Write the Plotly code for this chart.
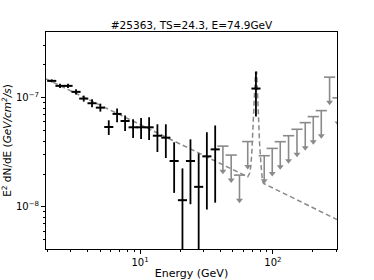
import plotly.graph_objects as go

# ---- data ----
E_pts = [2.161, 2.495, 2.867, 3.294, 3.764, 4.347, 5.022, 5.809, 6.709, 7.709, 8.857,
         10.17, 11.69, 13.50, 15.62, 18.04, 20.84, 23.94, 27.60, 31.81, 36.75, 74.5]
flux = [1.422e-7, 1.280e-7, 1.280e-7, 1.128e-7, 9.79e-8, 8.88e-8, 8.09e-8, 5.38e-8,
        7.09e-8, 6.11e-8, 5.35e-8, 5.35e-8, 5.35e-8, 4.48e-8, 4.30e-8, 2.63e-8,
        1.152e-8, 2.63e-8, 1.526e-8, 2.90e-8, 3.36e-8, 1.21e-7]
flux_hi = [1.468e-7, 1.335e-7, 1.335e-7, 1.189e-7, 1.043e-7, 9.66e-8, 8.80e-8, 6.20e-8,
           7.93e-8, 6.84e-8, 6.34e-8, 6.51e-8, 6.61e-8, 5.70e-8, 5.70e-8, 3.90e-8,
           2.25e-8, 4.15e-8, 3.08e-8, 4.82e-8, 5.56e-8, 1.732e-7]
flux_lo = [1.378e-7, 1.227e-7, 1.227e-7, 1.070e-7, 9.19e-8, 8.16e-8, 7.44e-8, 4.55e-8,
           5.95e-8, 4.95e-8, 4.27e-8, 4.18e-8, 4.09e-8, 3.18e-8, 2.80e-8, 1.344e-8,
           1e-9, 1.059e-8, 1e-9, 9.46e-9, 1.093e-8, 6.72e-8]

E_ul = [42.0, 48.5, 56.0, 64.6, 86.0, 98.8, 113.5, 131.1, 151.7, 175.1, 201.2, 231.2, 267.0, 309.0]
ul = [3.60e-8, 2.98e-8, 1.953e-8, 3.96e-8, 2.94e-8, 3.43e-8, 3.95e-8, 4.48e-8,
      5.13e-8, 5.90e-8, 6.70e-8, 7.60e-8, 1.538e-7, 9.94e-8]

E_model = [1.957, 64.6, 66.9, 68.3, 69.5, 70.7, 72.7, 73.9, 75.5, 77.1, 79.3, 81.6, 83.5, 85.0, 303.6]
model = [1.484e-7, 1.884e-8, 2.04e-8, 2.41e-8, 3.31e-8, 5.38e-8, 1.104e-7, 1.684e-7,
         1.72e-7, 7.71e-8, 3.84e-8, 2.31e-8, 1.72e-8, 1.64e-8, 7.66e-9]

x_tickvals = [10, 100]
x_ticktext = ["10<sup>1</sup>", "10<sup>2</sup>"]
y_tickvals = [1e-8, 1e-7]
y_ticktext = ["10<sup>\u22128</sup>", "10<sup>\u22127</sup>"]

title = "#25363, TS=24.3, E=74.9GeV"
xlabel = "Energy (GeV)"
ylabel = "E<sup>2</sup> dN/dE (<i>GeV/cm<sup>2</sup>/s</i>)"

# ---- styles ----
GRAY = "#8a8a8a"
ARROW_FRAC = 0.41  # arrow length as a fraction of the limit (visual style)

fig = go.Figure()

fig.add_trace(go.Scatter(
    x=E_model, y=model, mode="lines",
    line=dict(color=GRAY, width=1.5, dash="5px,3px"),
    hoverinfo="skip", showlegend=False))

# upper limits
fig.add_trace(go.Scatter(
    x=E_ul, y=ul, mode="markers",
    marker=dict(symbol="line-ew-open", size=8, color=GRAY, line=dict(color=GRAY, width=1.6)),
    error_y=dict(type="data", symmetric=False, array=[0] * len(ul),
                 arrayminus=[v * ARROW_FRAC for v in ul],
                 width=0, thickness=1.6, color=GRAY),
    showlegend=False))
fig.add_trace(go.Scatter(
    x=E_ul, y=[v * (1 - ARROW_FRAC) for v in ul], mode="markers",
    marker=dict(symbol="triangle-down", size=6, color=GRAY, line=dict(width=0)),
    showlegend=False))

# data points
fig.add_trace(go.Scatter(
    x=E_pts, y=flux, mode="markers",
    marker=dict(symbol="line-ew-open", size=6.5, color="black", line=dict(color="black", width=2)),
    error_y=dict(type="data", symmetric=False,
                 array=[h - f for h, f in zip(flux_hi, flux)],
                 arrayminus=[f - l for f, l in zip(flux, flux_lo)],
                 width=0, thickness=1.8, color="black"),
    showlegend=False))

minor_x = [v * m for v in (1, 10, 100) for m in range(2, 10)]
minor_y = [v * m for v in (1e-9, 1e-8, 1e-7) for m in range(2, 10)]

axis_common = dict(showline=True, linecolor="black", linewidth=1, mirror=True,
                   showgrid=False, zeroline=False, ticks="outside", ticklen=4,
                   tickwidth=1, tickcolor="black", automargin=False,
                   tickfont=dict(family="DejaVu Sans", size=10, color="black"))

fig.update_xaxes(type="log", range=[0.2916, 2.4823], tickmode="array",
                 tickvals=x_tickvals, ticktext=x_ticktext,
                 minor=dict(tickmode="array", tickvals=minor_x, ticks="outside",
                            ticklen=2, tickwidth=0.8, tickcolor="black"),
                 title=dict(text=xlabel, font=dict(family="DejaVu Sans", size=11, color="black"),
                            standoff=2),
                 **axis_common)
fig.update_yaxes(type="log", range=[-8.385, -6.40], tickmode="array",
                 tickvals=y_tickvals, ticktext=y_ticktext,
                 minor=dict(tickmode="array", tickvals=minor_y, ticks="outside",
                            ticklen=2, tickwidth=0.8, tickcolor="black"),
                 title=dict(text=ylabel, font=dict(family="DejaVu Sans", size=10.5, color="black"),
                            standoff=4),
                 **axis_common)

fig.update_layout(
    width=374, height=280,
    margin=dict(l=46, r=37, t=32, b=31),
    paper_bgcolor="white", plot_bgcolor="white",
    title=dict(text=title, x=0.5, xanchor="center", xref="paper",
               y=1 - 25 / 280, yanchor="middle", automargin=False,
               font=dict(family="DejaVu Sans", size=10.5, color="black")),
    showlegend=False,
)

fig.write_html("out.html", config={"displayModeBar": False},
               post_script="document.body.style.margin='0';document.body.style.overflow='hidden';")
